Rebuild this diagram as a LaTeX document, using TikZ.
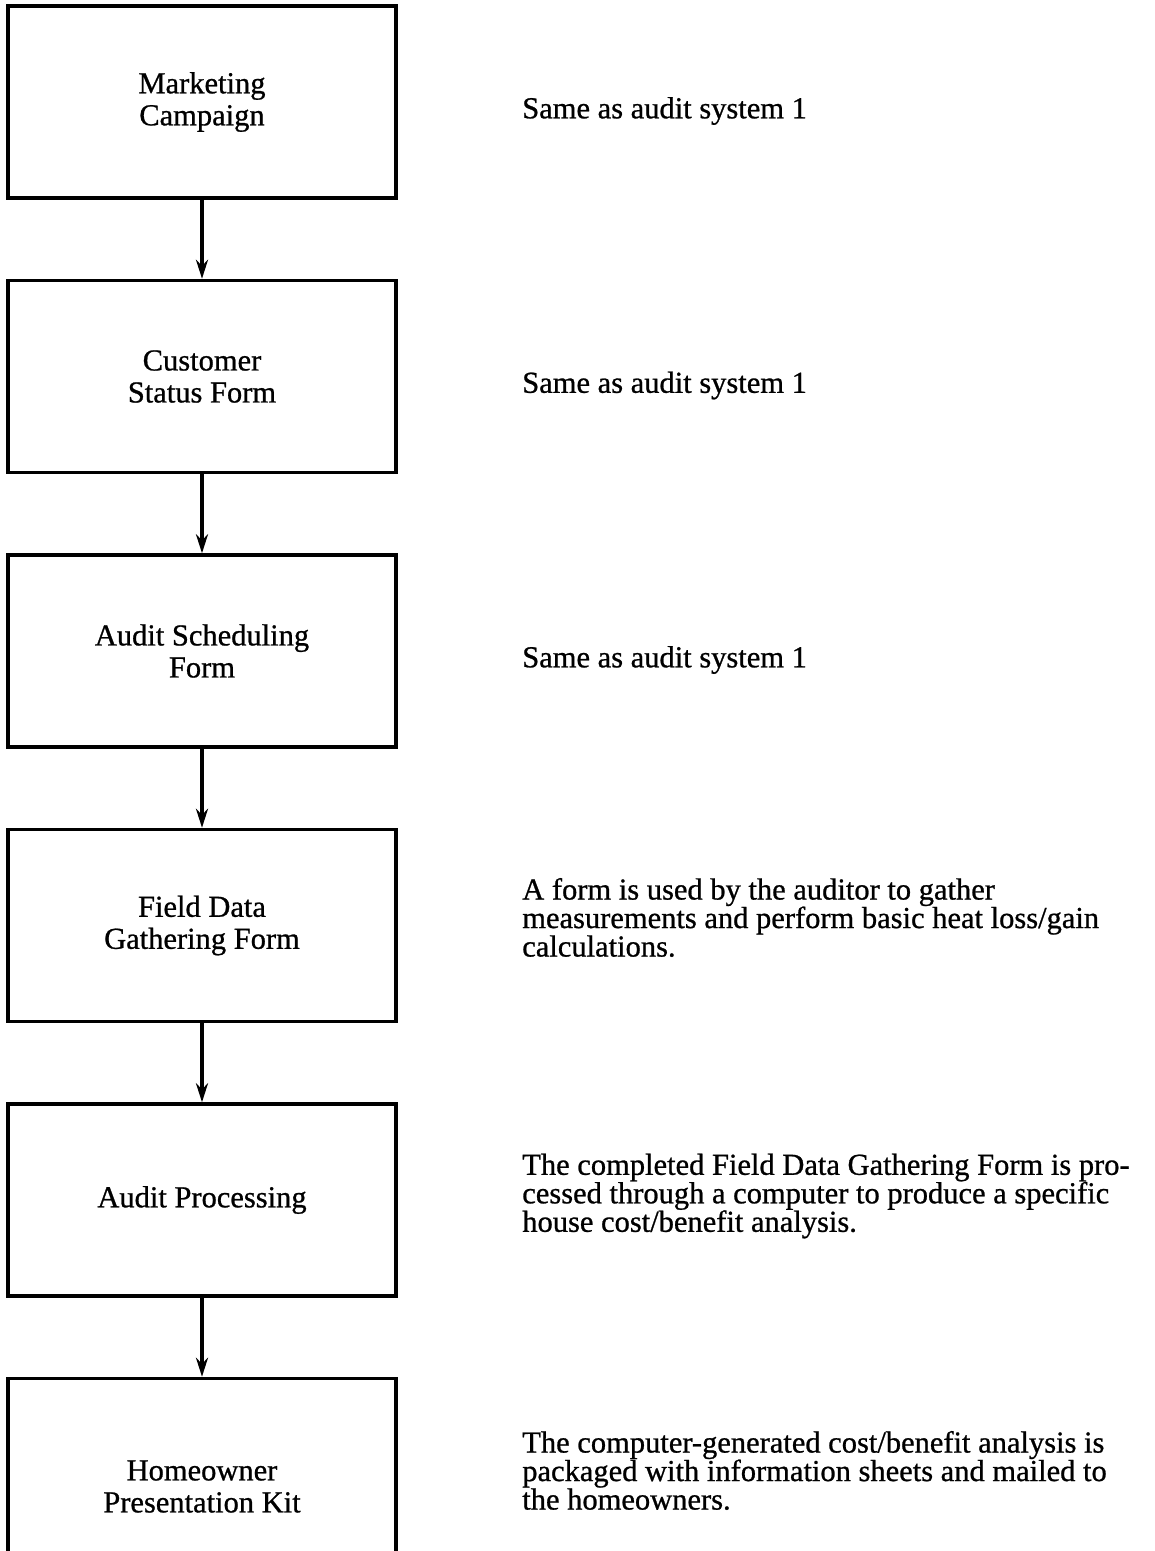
\documentclass[tikz,border=0pt]{standalone}
\usepackage{fontspec}
\setmainfont{Liberation Serif}[FakeBold=0.8]
\usetikzlibrary{positioning,arrows.meta}

\tikzset{
  stage/.style={draw, line width=3.5pt, minimum width=388pt, minimum height=192pt,
    align=center, font=\fontsize{30.5}{32}\selectfont},
  note/.style={align=left, font=\fontsize{30.5}{28.5}\selectfont},
  same/.style={note, yshift=-9pt},
}

\begin{document}
\begin{tikzpicture}[x=1pt,y=-1pt,node distance=79pt]
  \useasboundingbox (0,0) rectangle (1155,1551);
  % stages of the audit
  \node[stage] (mkt) at (202,102) {Marketing\\Campaign};
  \node[stage, below=of mkt] (csf) {Customer\\Status Form};
  \node[stage, below=of csf] (asf) {Audit Scheduling\\Form};
  \node[stage, below=of asf] (fdg) {Field Data\\Gathering Form};
  \node[stage, below=of fdg] (proc) {Audit Processing};
  \node[stage, below=of proc, minimum height=216pt] (kit) {Homeowner\\Presentation Kit};
  % notes beside them
  \node[same, right=121pt of mkt.east] (mkt-note) {Same as audit system 1};
  \node[same, right=121pt of csf.east] (csf-note) {Same as audit system 1};
  \node[same, right=121pt of asf.east] (asf-note) {Same as audit system 1};
  \node[note, right=121pt of fdg.east, yshift=8pt] (fdg-note) {A form is used by the auditor to gather\\
    measurements and perform basic heat loss/gain\\calculations.};
  \node[note, right=121pt of proc.east, yshift=4pt] (proc-note) {The completed Field Data Gathering Form is pro-\\
    cessed through a computer to produce a specific\\house cost/benefit analysis.};
  \node[note, right=121pt of kit.east, yshift=16pt] (kit-note) {The computer-generated cost/benefit analysis is\\
    packaged with information sheets and mailed to\\the homeowners.};
  \path[-{Stealth[length=19pt,width=12pt]}, line width=3.5pt]
    (mkt) edge (csf)
    (csf) edge (asf)
    (asf) edge (fdg)
    (fdg) edge (proc)
    (proc) edge (kit);
\end{tikzpicture}
\end{document}
